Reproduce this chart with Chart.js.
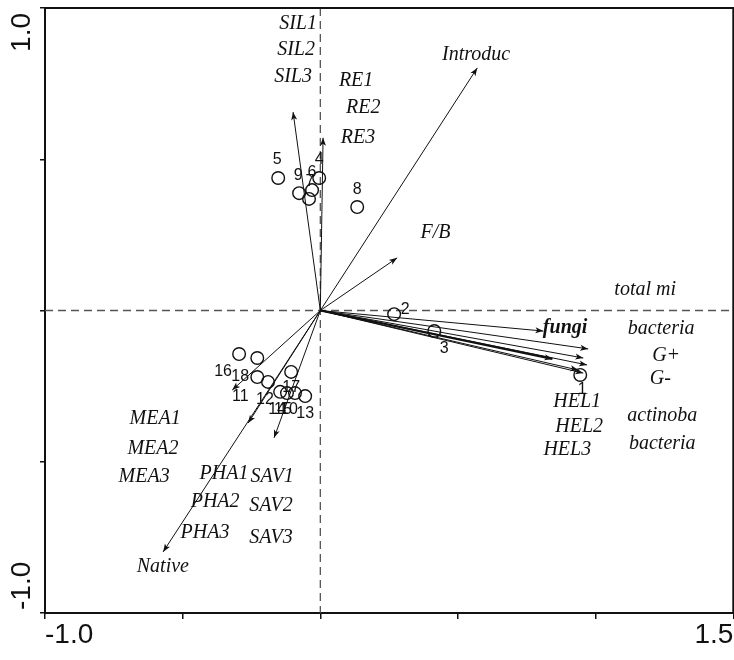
<!DOCTYPE html>
<html>
<head>
<meta charset="utf-8">
<script src="https://cdn.jsdelivr.net/npm/chart.js@4.4.1/dist/chart.umd.min.js"></script>
<style>
  html, body { margin: 0; padding: 0; background: #fff; overflow: hidden; }
  #wrap { width: 734px; height: 660px; position: relative; overflow: hidden; }
  #c { display: block; }
</style>
</head>
<body>
<div id="wrap"><canvas id="c" width="741" height="660"></canvas></div>
<script>
// Ordination biplot: sample scores (circles) and variable vectors (arrows)

// Sample scores, axis 1 / axis 2
const sampleIds = ['1','2','3','4','5','6','7','8','9','10','11','12','13','14','15','16','17','18'];
const sampleX = [0.944, 0.268, 0.414, -0.004, -0.153, -0.030, -0.041, 0.134, -0.077,
                 -0.092, -0.229, -0.190, -0.055, -0.146, -0.121, -0.295, -0.106, -0.229];
const sampleY = [-0.213, -0.012, -0.068, 0.438, 0.438, 0.398, 0.369, 0.342, 0.388,
                 -0.273, -0.220, -0.236, -0.283, -0.269, -0.273, -0.144, -0.203, -0.157];

// Variable vectors (tips; all start at the origin)
const arrowNames = ['SIL', 'RE', 'Introduc', 'F/B', 'fungi', 'total mi', 'bacteria', 'G+', 'G-',
                    'actinoba', 'bacteria2', 'MEA', 'PHA', 'SAV', 'Native'];
const arrowX = [-0.099, 0.010, 0.570, 0.279, 0.810, 0.973, 0.955, 0.969, 0.843,
                0.955, 0.937, -0.320, -0.262, -0.168, -0.571];
const arrowY = [0.656, 0.571, 0.802, 0.174, -0.068, -0.127, -0.157, -0.180, -0.160,
                -0.207, -0.197, -0.263, -0.372, -0.421, -0.798];
const arrowBold = ['G-'];

// Axis tick labels
const xTickLabels = ['-1.0', '1.5'];
const yTickLabels = ['1.0', '-1.0'];

// Text annotations placed in score units
const noteText = ['SIL1','SIL2','SIL3','RE1','RE2','RE3','Introduc','F/B','fungi','total mi',
                  'bacteria','G+','G-','actinoba','bacteria','HEL1','HEL2','HEL3',
                  'MEA1','MEA2','MEA3','PHA1','PHA2','PHA3','SAV1','SAV2','SAV3','Native'];
const noteX = [-0.081,-0.088,-0.099, 0.130, 0.156, 0.137, 0.566, 0.418, 0.889, 1.180,
                1.238, 1.256, 1.235, 1.242, 1.242, 0.933, 0.940, 0.897,
               -0.600,-0.608,-0.640,-0.350,-0.382,-0.419,-0.175,-0.179,-0.179,-0.572];
const noteY = [0.947, 0.861, 0.772, 0.761, 0.669, 0.570, 0.845, 0.256,-0.058, 0.068,
               -0.061,-0.150,-0.226,-0.349,-0.441,-0.302,-0.385,-0.461,
               -0.359,-0.458,-0.550,-0.540,-0.633,-0.736,-0.550,-0.646,-0.752,-0.848];
const noteBold = ['fungi'];

// Pixel offsets of the sample number labels from their circles
const idOffsets = [[2,15],[11,-5],[10,18],[0,-18],[-1,-18],[0,-18],[1,-17],[0,-17],[-1,-18],
                   [-6,17],[-17,20],[-3,18],[0,17],[-3,18],[-4,17],[-16,18],[0,16],[-17,19]];

const SERIF = '"Liberation Serif", "Times New Roman", serif';
const SANS = '"Liberation Sans", Arial, sans-serif';

const datasets = [];
arrowNames.forEach((n, i) => {
  datasets.push({
    label: n,
    data: [{x: 0, y: 0}, {x: arrowX[i], y: arrowY[i]}],
    showLine: true,
    pointRadius: 0,
    borderColor: '#111',
    borderWidth: arrowBold.includes(n) ? 2.2 : 1,
    order: 2
  });
});
datasets.push({
  label: 'samples',
  data: sampleX.map((x, i) => ({x: x, y: sampleY[i]})),
  pointStyle: 'circle',
  pointRadius: 6.3,
  pointBorderWidth: 1.4,
  pointBorderColor: '#111',
  pointBackgroundColor: 'rgba(0,0,0,0)',
  showLine: false,
  order: 1
});

const biplotDecor = {
  id: 'biplotDecor',
  beforeDatasetsDraw(chart) {
    const {ctx, chartArea: a, scales: {x, y}} = chart;
    const x0 = x.getPixelForValue(0), y0 = y.getPixelForValue(0);
    ctx.save();
    ctx.strokeStyle = '#555';
    ctx.lineWidth = 1.3;
    ctx.setLineDash([8, 5]);
    ctx.beginPath();
    ctx.moveTo(x0, a.top); ctx.lineTo(x0, a.bottom);
    ctx.moveTo(a.left, y0); ctx.lineTo(a.right, y0);
    ctx.stroke();
    ctx.restore();
  },
  afterDatasetsDraw(chart) {
    const {ctx, chartArea: a, scales: {x, y}} = chart;
    const x0 = x.getPixelForValue(0), y0 = y.getPixelForValue(0);
    ctx.save();
    // arrow heads
    ctx.fillStyle = '#111';
    arrowNames.forEach((n, i) => {
      const px = x.getPixelForValue(arrowX[i]), py = y.getPixelForValue(arrowY[i]);
      const ang = Math.atan2(py - y0, px - x0);
      const L = 8, W = 3;
      ctx.beginPath();
      ctx.moveTo(px, py);
      ctx.lineTo(px - L * Math.cos(ang) + W * Math.sin(ang), py - L * Math.sin(ang) - W * Math.cos(ang));
      ctx.lineTo(px - L * 0.75 * Math.cos(ang), py - L * 0.75 * Math.sin(ang));
      ctx.lineTo(px - L * Math.cos(ang) - W * Math.sin(ang), py - L * Math.sin(ang) + W * Math.cos(ang));
      ctx.closePath();
      ctx.fill();
    });
    // top and right frame
    ctx.strokeStyle = '#111';
    ctx.lineWidth = 2;
    ctx.beginPath();
    ctx.moveTo(a.left, a.top); ctx.lineTo(a.right, a.top); ctx.lineTo(a.right, a.bottom);
    ctx.stroke();
    // sample numbers
    ctx.fillStyle = '#111';
    ctx.font = '16px ' + SANS;
    ctx.textAlign = 'center';
    ctx.textBaseline = 'middle';
    sampleIds.forEach((s, i) => {
      const px = x.getPixelForValue(sampleX[i]) + idOffsets[i][0];
      const py = y.getPixelForValue(sampleY[i]) + idOffsets[i][1];
      ctx.fillText(s, px, py);
    });
    // text annotations
    noteText.forEach((t, i) => {
      ctx.font = (noteBold.includes(t) ? 'italic bold 20px ' : 'italic 20px ') + SERIF;
      ctx.fillText(t, x.getPixelForValue(noteX[i]), y.getPixelForValue(noteY[i]));
    });
    // axis end labels
    ctx.font = '28px ' + SANS;
    ctx.textBaseline = 'middle';
    ctx.textAlign = 'left';
    ctx.fillText(xTickLabels[0], x.getPixelForValue(-1), a.bottom + 22);
    ctx.textAlign = 'right';
    ctx.fillText(xTickLabels[1], x.getPixelForValue(1.5), a.bottom + 22);
    ctx.save();
    ctx.translate(22, y.getPixelForValue(1));
    ctx.rotate(-Math.PI / 2);
    ctx.textAlign = 'right';
    ctx.fillText(yTickLabels[0], -5, 0);
    ctx.restore();
    ctx.save();
    ctx.translate(22, y.getPixelForValue(-1));
    ctx.rotate(-Math.PI / 2);
    ctx.textAlign = 'left';
    ctx.fillText(yTickLabels[1], 3, 0);
    ctx.restore();
    ctx.restore();
  }
};

new Chart(document.getElementById('c'), {
  type: 'scatter',
  data: { datasets: datasets },
  options: {
    responsive: false,
    animation: false,
    layout: { padding: { top: 8, right: 1, left: 0, bottom: 0 } },
    plugins: { legend: { display: false }, tooltip: { enabled: false } },
    scales: {
      x: {
        type: 'linear', min: -1, max: 1.5,
        ticks: { display: false, stepSize: 0.5 },
        grid: { drawOnChartArea: false, drawTicks: true, tickLength: 6, color: '#111', lineWidth: 1.5 },
        border: { display: true, color: '#111', width: 2 },
        afterFit(s) { s.height = 47; }
      },
      y: {
        type: 'linear', min: -1, max: 1,
        ticks: { display: false, stepSize: 0.5 },
        grid: { drawOnChartArea: false, drawTicks: true, tickLength: 5, color: '#111', lineWidth: 1.5 },
        border: { display: true, color: '#111', width: 2 },
        afterFit(s) { s.width = 45; }
      }
    }
  },
  plugins: [biplotDecor]
});
</script>
</body>
</html>
